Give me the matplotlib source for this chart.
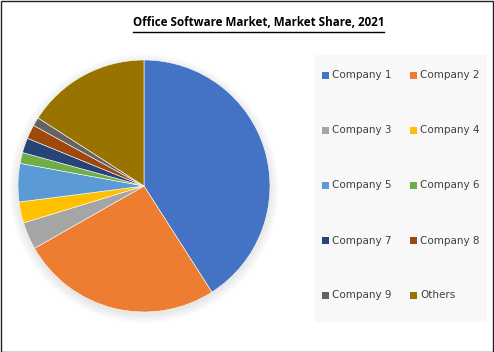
import matplotlib.pyplot as plt
import matplotlib.patches as patches

# Данные диаграммы
labels = ['Company 1', 'Company 2', 'Company 3', 'Company 4', 'Company 5',
          'Company 6', 'Company 7', 'Company 8', 'Company 9', 'Others']
shares = [40.9, 25.8, 3.5, 2.7, 4.9, 1.4, 1.9, 1.8, 1.1, 15.9]
colors = ['#4472C4', '#ED7D31', '#A5A5A5', '#FFC000', '#5B9BD5',
          '#70AD47', '#264478', '#9E480E', '#636363', '#997300']

W, H = 494, 352
fig = plt.figure(figsize=(W / 100, H / 100), dpi=100)
fig.patch.set_facecolor('white')

# рамка вокруг всей картинки
fig.add_artist(patches.Rectangle((0.5 / W, 0.5 / H), 1 - 1.5 / W, 1 - 1.5 / H,
                                 transform=fig.transFigure, fill=False,
                                 edgecolor='#222222', linewidth=1.0))

# фон легенды
fig.add_artist(patches.Rectangle((315 / W, 1 - 322 / H), 172 / W, 267 / H,
                                 transform=fig.transFigure, facecolor='#f8f8f8',
                                 edgecolor='none'))

# круговая диаграмма
cx, cy, r = 144, 186, 126
ax = fig.add_axes([(cx - r) / W, (H - cy - r) / H, 2 * r / W, 2 * r / H])

# мягкая тень
for i in range(8):
    ax.add_patch(patches.Circle((0.0, -0.02), 1.0 + 0.01 * i, color='#000000',
                                alpha=0.012, linewidth=0, zorder=0,
                                clip_on=False))

wedges, _ = ax.pie(shares, colors=colors, startangle=90, counterclock=False,
                   wedgeprops=dict(linewidth=0.4, edgecolor='white'))
for w in wedges:
    w.set_zorder(2)
ax.set_xlim(-1, 1)
ax.set_ylim(-1, 1)
ax.set_aspect('equal')
ax.axis('off')

title = fig.text(258.5 / W, 1 - 23 / H, 'Office Software Market, Market Share, 2021',
                 ha='center', va='center', fontsize=8.4, fontweight='bold',
                 family='Open Sans')
fig.canvas.draw()
bb = title.get_window_extent().transformed(fig.transFigure.inverted())
fig.add_artist(plt.Line2D([bb.x0, bb.x1], [1 - 31.5 / H, 1 - 31.5 / H],
                          transform=fig.transFigure, color='black', linewidth=1))

# легенда вручную: два столбца
col_x = [322, 410]
row_y = [75, 130, 185, 240.5, 295.5]
for i, (lab, col) in enumerate(zip(labels, colors)):
    x = col_x[i % 2]
    y = row_y[i // 2]
    fig.add_artist(patches.Rectangle((x / W, 1 - (y + 3.5) / H), 7 / W, 7 / H,
                                     transform=fig.transFigure, facecolor=col,
                                     edgecolor='none'))
    fig.text((x + 10) / W, 1 - y / H, lab, ha='left', va='center',
             fontsize=7.5, color='#404040', family='DejaVu Sans')

fig.savefig('out.png', dpi=100)
